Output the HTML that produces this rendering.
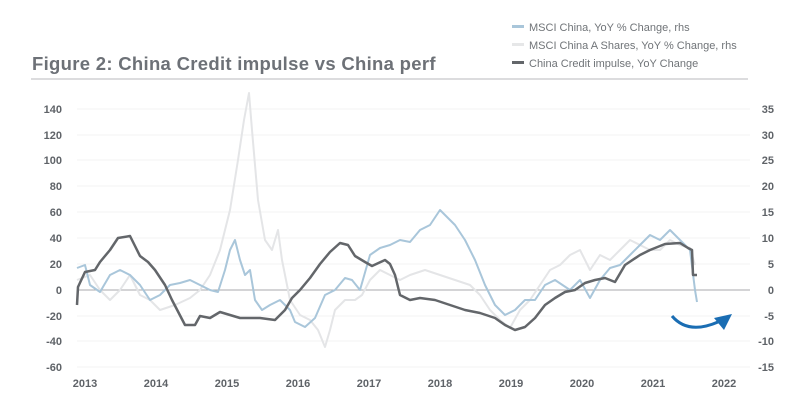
<!DOCTYPE html>
<html><head><meta charset="utf-8"><style>
html,body{margin:0;padding:0;background:#fff;}
svg{display:block;font-family:"Liberation Sans",sans-serif;}
</style></head><body>
<svg width="800" height="414" viewBox="0 0 800 414">
<rect width="800" height="414" fill="#fff"/>
<text x="32" y="70" font-size="18.5" font-weight="bold" fill="#6d7177" letter-spacing="0.3">Figure 2: China Credit impulse vs China perf</text>
<line x1="31" y1="79" x2="748" y2="79" stroke="#b8babd" stroke-width="1"/>
<g font-size="11" fill="#707478">
<rect x="512" y="25" width="12" height="3" fill="#a9c6da"/><text x="529" y="31">MSCI China, YoY % Change, rhs</text>
<rect x="512" y="43" width="12" height="3" fill="#e6e7e8"/><text x="529" y="49">MSCI China A Shares, YoY % Change, rhs</text>
<rect x="512" y="61" width="12" height="3" fill="#63666a"/><text x="529" y="67">China Credit impulse, YoY Change</text>
</g>
<g stroke="#f3f3f3" stroke-width="1">
<line x1="77" y1="109" x2="750" y2="109"/><line x1="77" y1="135" x2="750" y2="135"/><line x1="77" y1="160" x2="750" y2="160"/><line x1="77" y1="186" x2="750" y2="186"/><line x1="77" y1="212" x2="750" y2="212"/><line x1="77" y1="238" x2="750" y2="238"/><line x1="77" y1="264" x2="750" y2="264"/><line x1="77" y1="316" x2="750" y2="316"/><line x1="77" y1="341" x2="750" y2="341"/><line x1="77" y1="367" x2="750" y2="367"/>
</g>
<line x1="77" y1="290" x2="750" y2="290" stroke="#a8aaad" stroke-width="1"/>
<g font-size="11" fill="#5f6368" font-weight="bold" text-anchor="end">
<text x="62" y="113">140</text><text x="62" y="139">120</text><text x="62" y="164">100</text><text x="62" y="190">80</text><text x="62" y="216">60</text><text x="62" y="242">40</text><text x="62" y="268">20</text><text x="62" y="294">0</text><text x="62" y="320">-20</text><text x="62" y="345">-40</text><text x="62" y="371">-60</text>
</g>
<g font-size="11" fill="#5f6368" font-weight="bold" text-anchor="end">
<text x="774" y="113">35</text><text x="774" y="139">30</text><text x="774" y="164">25</text><text x="774" y="190">20</text><text x="774" y="216">15</text><text x="774" y="242">10</text><text x="774" y="268">5</text><text x="774" y="294">0</text><text x="774" y="320">-5</text><text x="774" y="345">-10</text><text x="774" y="371">-15</text>
</g>
<g font-size="11" fill="#5f6368" font-weight="bold" text-anchor="middle">
<text x="85" y="387">2013</text><text x="156" y="387">2014</text><text x="227" y="387">2015</text><text x="298" y="387">2016</text><text x="369" y="387">2017</text><text x="440" y="387">2018</text><text x="511" y="387">2019</text><text x="582" y="387">2020</text><text x="653" y="387">2021</text><text x="724" y="387">2022</text>
</g>
<polyline fill="none" stroke="#e4e5e7" stroke-width="2" stroke-linejoin="round" points="77,280 90,275 100,290 110,300 120,290 130,275 140,295 150,300 160,310 175,305 190,298 200,290 210,275 220,250 230,210 238,160 244,120 249,93 252,130 258,200 265,240 272,250 278,230 282,260 290,300 300,315 310,320 318,330 325,347 330,330 335,310 345,300 355,300 362,295 370,280 380,270 390,275 400,280 410,275 425,270 440,275 455,280 470,285 480,295 490,310 500,320 510,328 520,310 530,300 540,285 550,270 560,265 570,255 580,250 590,270 600,255 610,260 620,250 630,240 640,245 650,250 660,250 670,240 680,245 690,248 695,265"/>
<polyline fill="none" stroke="#a9c6da" stroke-width="2" stroke-linejoin="round" points="77,268 85,265 90,285 100,292 110,275 120,270 130,275 140,285 150,300 160,295 170,285 180,283 190,280 200,285 210,290 218,292 225,270 230,250 235,240 240,260 245,275 250,270 255,300 262,310 270,305 280,300 290,310 295,322 305,327 315,318 325,295 335,290 345,278 352,280 360,290 370,255 380,248 390,245 400,240 410,242 420,230 430,225 440,210 445,215 455,225 465,240 475,260 485,285 495,305 505,315 515,310 525,300 535,300 545,285 555,280 570,290 580,280 590,298 600,280 610,268 620,265 630,255 640,245 650,235 660,240 670,230 680,240 690,250 695,290 697,302"/>
<polyline fill="none" stroke="#63666a" stroke-width="2.5" stroke-linejoin="round" points="77,305 78,287 85,272 95,270 100,262 110,250 118,238 130,236 135,246 140,256 148,262 155,270 165,285 172,300 185,325 195,325 200,316 210,318 220,312 240,318 260,318 275,320 285,310 292,298 300,290 310,278 320,264 330,252 340,243 348,245 355,256 365,262 372,266 385,260 390,264 395,275 400,295 410,300 420,298 435,300 450,305 465,310 480,313 495,318 505,325 515,330 525,327 535,318 545,305 555,298 565,292 575,290 585,283 595,280 605,278 615,282 625,265 640,255 650,250 665,244 680,243 688,248 692,250 693,275 697,275"/>
<path d="M672,316 Q688,335 718,322" fill="none" stroke="#1a6db3" stroke-width="3"/>
<polygon points="732,314 714,318 724,330" fill="#1a6db3"/>
</svg>
</body></html>
